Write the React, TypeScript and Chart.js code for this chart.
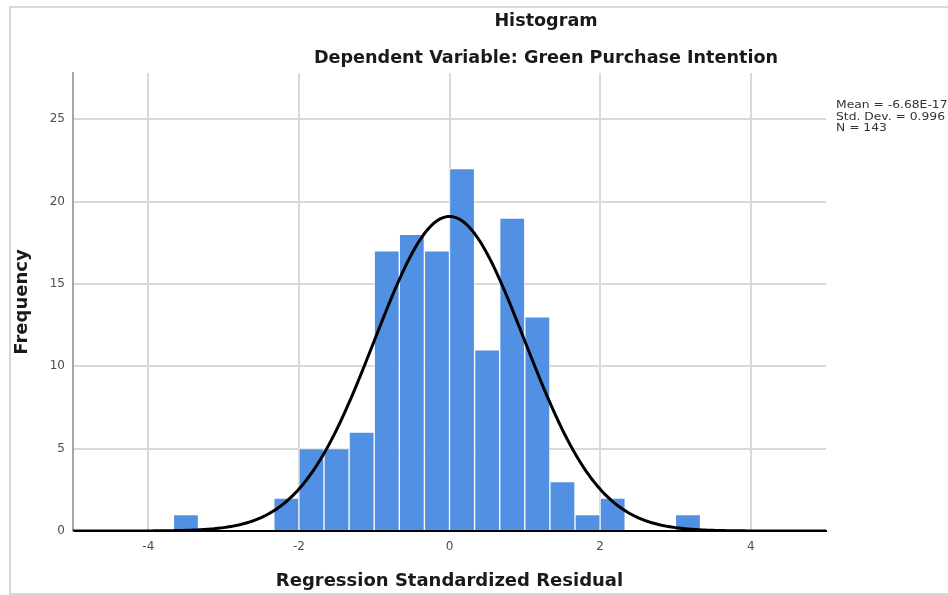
import { useEffect, useRef } from "react";
import { Chart, registerables } from "chart.js";

Chart.register(...registerables);

// Histogram bins (width 1/3), centre of each bin and its count
const BIN_WIDTH = 1 / 3;
const BIN_CENTERS = [
  -3.5, -2.1667, -1.8333, -1.5, -1.1667, -0.8333, -0.5, -0.1667,
  0.1667, 0.5, 0.8333, 1.1667, 1.5, 1.8333, 2.1667, 3.1667,
];
const FREQUENCIES = [1, 2, 5, 5, 6, 17, 18, 17, 22, 11, 19, 13, 3, 1, 2, 1];

// Reported residual statistics
const MEAN = -6.68e-17;
const STD_DEV = 0.996;
const N = 143;
const STATS_LINES = ["Mean = -6.68E-17", "Std. Dev. = 0.996", "N = 143"];

// Axes
const X_MIN = -5;
const X_MAX = 5;
const Y_MIN = 0;
const Y_MAX = 27.8;
const X_TICKS = [-4, -2, 0, 2, 4];
const Y_TICKS = [0, 5, 10, 15, 20, 25];

const TITLE = "Histogram";
const SUBTITLE = "Dependent Variable: Green Purchase Intention";
const X_TITLE = "Regression Standardized Residual";
const Y_TITLE = "Frequency";

const FONT = "'DejaVu Sans', 'Liberation Sans', sans-serif";

// Expected count per bin under the normal curve with the reported mean / std. dev.
function normalCurve() {
  const pts: { x: number; y: number }[] = [];
  const scale = (N * BIN_WIDTH) / (STD_DEV * Math.sqrt(2 * Math.PI));
  for (let i = 0; i <= 400; i++) {
    const x = X_MIN + ((X_MAX - X_MIN) * i) / 400;
    const z = (x - MEAN) / STD_DEV;
    pts.push({ x, y: scale * Math.exp(-0.5 * z * z) });
  }
  return pts;
}

const decorations = {
  id: "decorations",
  beforeDraw(chart: any) {
    const { ctx } = chart;
    ctx.save();
    ctx.strokeStyle = "#d9d9d9";
    ctx.lineWidth = 2;
    ctx.strokeRect(10, 7, 960, 587);
    ctx.restore();
  },
  afterDraw(chart: any) {
    const { ctx, chartArea } = chart;
    ctx.save();
    ctx.fillStyle = "#1a1a1a";
    ctx.textAlign = "center";
    ctx.textBaseline = "alphabetic";
    ctx.font = `bold 17.6px ${FONT}`;
    ctx.fillText(TITLE, 546, 26);
    ctx.fillText(SUBTITLE, 546, 63);
    ctx.restore();

    // statistics box, slightly widened text
    ctx.save();
    ctx.fillStyle = "#333";
    ctx.textAlign = "left";
    ctx.textBaseline = "alphabetic";
    ctx.font = `11px ${FONT}`;
    const x0 = chartArea.right + 10;
    ctx.translate(x0, 0);
    ctx.scale(1.12, 1);
    STATS_LINES.forEach((line, i) => {
      ctx.fillText(line, 0, 108 + i * 11.5);
    });
    ctx.restore();
  },
};

export default function App() {
  const canvasRef = useRef<HTMLCanvasElement | null>(null);

  useEffect(() => {
    if (!canvasRef.current) return;
    const chart = new Chart(canvasRef.current, {
      type: "bar",
      data: {
        datasets: [
          {
            type: "line",
            label: "Normal",
            data: normalCurve(),
            borderColor: "#000",
            borderWidth: 3,
            pointRadius: 0,
            fill: false,
            order: 0,
          } as any,
          {
            type: "bar",
            label: "Frequency",
            data: BIN_CENTERS.map((x, i) => ({ x, y: FREQUENCIES[i] })),
            backgroundColor: "#5190e2",
            borderColor: "rgba(255,255,255,0.7)",
            borderWidth: 1,
            barPercentage: 1,
            categoryPercentage: 1,
            order: 1,
          } as any,
        ],
      },
      options: {
        responsive: false,
        animation: false,
        layout: { padding: { left: 0, top: 73, right: 122, bottom: 0 } },
        plugins: {
          legend: { display: false },
          tooltip: { enabled: false },
          title: { display: false },
        },
        scales: {
          x: {
            type: "linear",
            min: X_MIN,
            max: X_MAX,
            offset: false,
            afterBuildTicks: (s: any) => {
              s.ticks = X_TICKS.map((v) => ({ value: v }));
            },
            afterFit: (s: any) => {
              s.height = 64;
            },
            grid: {
              offset: false,
              color: "#d9d9d9",
              lineWidth: 2,
              drawTicks: false,
            },
            border: { color: "#000", width: 2 },
            ticks: {
              padding: 9,
              color: "#4d4d4d",
              font: { family: FONT, size: 12 },
            },
            title: {
              display: true,
              text: X_TITLE,
              color: "#1a1a1a",
              font: { family: FONT, size: 18, weight: "bold" },
              padding: { top: 0, bottom: 3 },
            },
          },
          y: {
            type: "linear",
            min: Y_MIN,
            max: Y_MAX,
            afterBuildTicks: (s: any) => {
              s.ticks = Y_TICKS.map((v) => ({ value: v }));
            },
            afterFit: (s: any) => {
              s.width = 73;
            },
            grid: {
              color: "#d9d9d9",
              lineWidth: 2,
              drawTicks: false,
            },
            border: { color: "#a6a6a6", width: 2 },
            ticks: {
              padding: 8,
              color: "#4d4d4d",
              font: { family: FONT, size: 12 },
            },
            title: {
              display: true,
              text: Y_TITLE,
              color: "#1a1a1a",
              font: { family: FONT, size: 18, weight: "bold" },
              padding: { top: 12, bottom: 0 },
            },
          },
        },
      },
      plugins: [decorations],
    } as any);
    return () => chart.destroy();
  }, []);

  return (
    <div
      style={{
        position: "fixed",
        left: 0,
        top: 0,
        width: 948,
        height: 595,
        background: "#fff",
      }}
    >
      <canvas ref={canvasRef} width={948} height={595} />
    </div>
  );
}
